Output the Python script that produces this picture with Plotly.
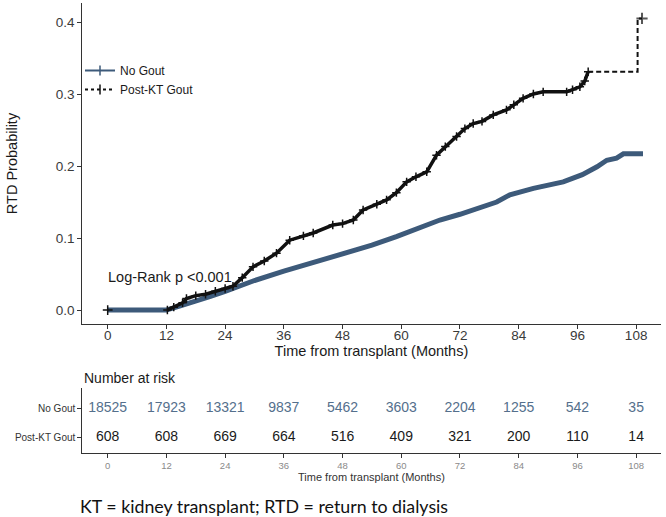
import plotly.graph_objects as go

# ---- data ----
NO_GOUT_T = [0, 12, 15, 18, 21, 24, 27, 30, 36, 42, 45.4, 48, 54, 59, 64, 67.9, 72, 74.7,
             79.5, 82.2, 87, 93.1, 97, 100, 102, 104, 105.4, 109.4]
NO_GOUT_P = [0, 0, 0.006, 0.012, 0.019, 0.026, 0.034, 0.041, 0.054, 0.066, 0.074, 0.079,
             0.090, 0.102, 0.114, 0.125, 0.133, 0.139, 0.150, 0.160, 0.169, 0.178, 0.188,
             0.199, 0.208, 0.211, 0.217, 0.217]

GOUT_T = [12.2, 13.5, 15.3, 16.1, 18, 20, 22, 24, 25.6, 27.5, 29.7, 32, 34.5, 37.2, 40, 42,
          46, 48, 50.2, 52.2, 55, 57, 59, 61.1, 63, 65.2, 67.2, 69, 71.3, 73, 74.7, 76.5,
          78.8, 81.5, 83, 84.9, 87, 89, 93.8, 95, 96.5, 97.5, 98.2, 108.3, 109.2]
GOUT_P = [0, 0.004, 0.010, 0.016, 0.020, 0.022, 0.026, 0.030, 0.033, 0.045, 0.060, 0.068,
          0.079, 0.097, 0.103, 0.107, 0.118, 0.120, 0.125, 0.139, 0.147, 0.153, 0.163,
          0.178, 0.185, 0.192, 0.215, 0.227, 0.241, 0.252, 0.259, 0.262, 0.271, 0.278,
          0.285, 0.294, 0.300, 0.303, 0.303, 0.306, 0.310, 0.318, 0.331, 0.405, 0.405]

RISK_TIMES = [0, 12, 24, 36, 48, 60, 72, 84, 96, 108]
RISK_NO_GOUT = [18525, 17923, 13321, 9837, 5462, 3603, 2204, 1255, 542, 35]
RISK_GOUT = [608, 608, 669, 664, 516, 409, 321, 200, 110, 14]
GROUPS = ["No Gout", "Post-KT Gout"]

BLUE = "#3d5a7a"
BLUE_TXT = "#546f8c"
FONT = "Liberation Sans"
AX = "#333333"

W, H = 666, 517
xdom = [82.3 / W, 660.6 / W]
main_ydom = [(H - 324) / H, (H - 3) / H]
tab_ydom = [(H - 453) / H, (H - 388) / H]
xrange_ = [-5.19, 113.0]

fig = go.Figure()

# main curves
fig.add_trace(go.Scatter(x=NO_GOUT_T, y=NO_GOUT_P, mode="lines",
                         line=dict(color=BLUE, width=5), showlegend=False,
                         xaxis="x", yaxis="y", hoverinfo="skip"))
cut = GOUT_T.index(98.2)
fig.add_trace(go.Scatter(x=GOUT_T[:cut + 1], y=GOUT_P[:cut + 1], mode="lines+markers",
                         line=dict(color="#111111", width=3.5),
                         marker=dict(symbol="cross-thin", size=6, line=dict(color="#111111", width=1.5)),
                         showlegend=False, xaxis="x", yaxis="y", hoverinfo="skip"))
fig.add_trace(go.Scatter(x=GOUT_T[cut:], y=GOUT_P[cut:], mode="lines+markers",
                         line=dict(color="#111111", width=2, dash="5px,3px", shape="hv"),
                         marker=dict(symbol="cross-thin", size=[0] * (len(GOUT_T) - cut - 1) + [8],
                                     line=dict(color="#111111", width=2)),
                         showlegend=False, xaxis="x", yaxis="y", hoverinfo="skip"))
fig.add_trace(go.Scatter(x=[0], y=[0], mode="markers",
                         marker=dict(symbol="cross-thin", size=7, line=dict(color="#111111", width=1.5)),
                         showlegend=False, xaxis="x", yaxis="y", hoverinfo="skip"))

# legend-only entries
fig.add_trace(go.Scatter(x=[None], y=[None], mode="lines+markers", name=GROUPS[0],
                         line=dict(color=BLUE, width=2),
                         marker=dict(symbol="line-ns", size=7, line=dict(color=BLUE, width=1.5)),
                         xaxis="x", yaxis="y"))
fig.add_trace(go.Scatter(x=[None], y=[None], mode="lines+markers", name=GROUPS[1],
                         line=dict(color="#111111", width=2, dash="3px,3px"),
                         marker=dict(symbol="line-ns", size=7, line=dict(color="#111111", width=1.5)),
                         xaxis="x", yaxis="y"))

# risk table
fig.add_trace(go.Scatter(x=RISK_TIMES, y=[2] * len(RISK_TIMES), mode="text",
                         text=[str(v) for v in RISK_NO_GOUT],
                         textfont=dict(family=FONT, size=14, color=BLUE_TXT),
                         showlegend=False, xaxis="x2", yaxis="y2", hoverinfo="skip"))
fig.add_trace(go.Scatter(x=RISK_TIMES, y=[1] * len(RISK_TIMES), mode="text",
                         text=[str(v) for v in RISK_GOUT],
                         textfont=dict(family=FONT, size=14, color="#1a1a1a"),
                         showlegend=False, xaxis="x2", yaxis="y2", hoverinfo="skip"))

axis_common = dict(showgrid=False, zeroline=False, showline=True, linecolor=AX, linewidth=1,
                   ticks="outside", ticklen=4, tickcolor=AX, tickwidth=1, automargin=False)

fig.update_layout(
    width=W, height=H, autosize=False,
    margin=dict(l=0, r=0, t=0, b=0, autoexpand=False),
    paper_bgcolor="white", plot_bgcolor="white",
    font=dict(family=FONT, color=AX),
    xaxis=dict(domain=xdom, range=xrange_, tickvals=RISK_TIMES,
               tickfont=dict(size=13.5, color="#3a3a3a"), ticklabelstandoff=-5,
               title=dict(text="Time from transplant (Months)", font=dict(size=14.5, color="#1a1a1a"),
                          standoff=3),
               anchor="y", **axis_common),
    yaxis=dict(domain=main_ydom, range=[-0.0194, 0.4264], tickvals=[0, 0.1, 0.2, 0.3, 0.4],
               ticktext=["0.0", "0.1", "0.2", "0.3", "0.4"],
               tickfont=dict(size=13.5, color="#3a3a3a"),
               title=dict(text="RTD Probability", font=dict(size=14.5, color="#1a1a1a"), standoff=34),
               anchor="x", **axis_common),
    xaxis2=dict(domain=xdom, range=xrange_, tickvals=RISK_TIMES,
                tickfont=dict(size=9.5, color="#8a8a8a"),
                title=dict(text="Time from transplant (Months)", font=dict(size=11, color="#333333"),
                           standoff=1),
                anchor="y2", **axis_common),
    yaxis2=dict(domain=tab_ydom, range=[0.48, 2.69], tickvals=[1, 2],
                ticktext=[GROUPS[1], GROUPS[0]],
                tickfont=dict(size=10, color="#333333"),
                anchor="x2", **axis_common),
    legend=dict(x=80 / W, y=(H - 56) / H, xanchor="left", yanchor="top",
                bgcolor="rgba(0,0,0,0)", font=dict(family=FONT, size=12, color="#1a1a1a"),
                tracegroupgap=0, itemwidth=30),
    annotations=[
        dict(x=-0.3, y=0.0458, xref="x", yref="y", text="Log-Rank p <0.001", showarrow=False,
             xanchor="left", yanchor="middle", font=dict(family=FONT, size=14.5, color="#1a1a1a")),
        dict(x=82 / W, y=(H - 378) / H, xref="paper", yref="paper", text="Number at risk",
             showarrow=False, xanchor="left", yanchor="middle",
             font=dict(family=FONT, size=14, color="#1a1a1a")),
        dict(x=78 / W, y=(H - 506) / H, xref="paper", yref="paper",
             text="KT = kidney transplant; RTD = return to dialysis",
             showarrow=False, xanchor="left", yanchor="middle",
             font=dict(family="Lato", size=17.8, color="#111111")),
    ],
)

fig.write_html("out.html", config={"displayModeBar": False},
               post_script="document.body.style.margin='0';document.body.style.overflow='hidden';")
